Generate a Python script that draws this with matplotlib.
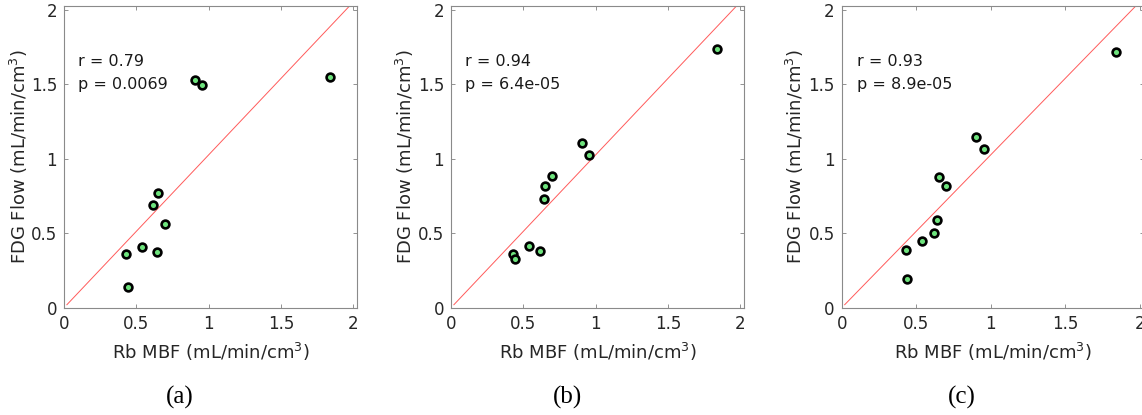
import matplotlib
matplotlib.use("Agg")
import matplotlib.pyplot as plt

# Rb MBF values (shared x for all panels)
rb_mbf = [0.431, 0.440, 0.541, 0.618, 0.641, 0.652, 0.700, 0.904, 0.954, 1.840]

# FDG flow for each panel
fdg_a = [0.362, 0.141, 0.409, 0.687, 0.371, 0.767, 0.562, 1.526, 1.497, 1.546]
fdg_b = [0.358, 0.329, 0.414, 0.378, 0.732, 0.817, 0.884, 1.107, 1.022, 1.738]
fdg_c = [0.387, 0.190, 0.447, 0.501, 0.588, 0.877, 0.819, 1.145, 1.067, 1.716]

r_vals = ["0.79", "0.94", "0.93"]
p_vals = ["0.0069", "6.4e-05", "8.9e-05"]
captions = ["(a)", "(b)", "(c)"]

# reference line endpoints
ref_x = [0.02, 1.98]
ref_y = [0.02, 2.03]

ticks = [0, 0.5, 1, 1.5, 2]
tick_labels = ["0", "0.5", "1", "1.5", "2"]

W, H = 1142, 415
fig = plt.figure(figsize=(W / 100, H / 100), dpi=100)

# axes boxes in pixels: left, right
boxes = [(64, 357.3), (451, 744.3), (841.7, 1143.8)]
top_px, bot_px = 5.7, 307.7
ylab_x = [19, 405, 795]
cap_x = [180, 567.7, 962]

for i, fdg in enumerate([fdg_a, fdg_b, fdg_c]):
    l, r = boxes[i]
    ax = fig.add_axes([l / W, 1 - bot_px / H, (r - l) / W, (bot_px - top_px) / H])
    ax.plot(ref_x, ref_y, color="#ff5a5a", lw=0.7, zorder=1)
    ax.plot(rb_mbf, fdg, "o", ms=5.6, mfc="#6ee37d", mec="black", mew=1.9, zorder=3)
    ax.set_xlim(0, 2.028)
    ax.set_ylim(0, 2.026)
    ax.set_xticks(ticks)
    ax.set_xticklabels(tick_labels)
    ax.set_yticks(ticks)
    ax.set_yticklabels(tick_labels)
    ax.tick_params(direction="in", length=3, width=0.6, color="#808080",
                   labelsize=12, labelcolor="#262626", top=True, right=True, pad=5)
    for s in ax.spines.values():
        s.set_color("#8a8a8a")
        s.set_linewidth(0.8)
    ax.text(0.1, 1.65, "r = " + r_vals[i], fontsize=11.5, color="#1a1a1a", va="center")
    ax.text(0.1, 1.50, "p = " + p_vals[i], fontsize=11.5, color="#1a1a1a", va="center")
    fig.text((l + r) / 2 / W, 1 - 352 / H, r"Rb MBF (mL/min/cm$^3$)", fontsize=13,
             color="#262626", ha="center", va="center")
    fig.text(ylab_x[i] / W, 1 - 157 / H, r"FDG Flow (mL/min/cm$^3$)", fontsize=13,
             color="#262626", ha="center", va="center", rotation=90)
    fig.text(cap_x[i] / W, 1 - 397 / H, captions[i], fontsize=18,
             family="Liberation Serif", ha="center", va="center")

fig.savefig("out.png", dpi=100)
